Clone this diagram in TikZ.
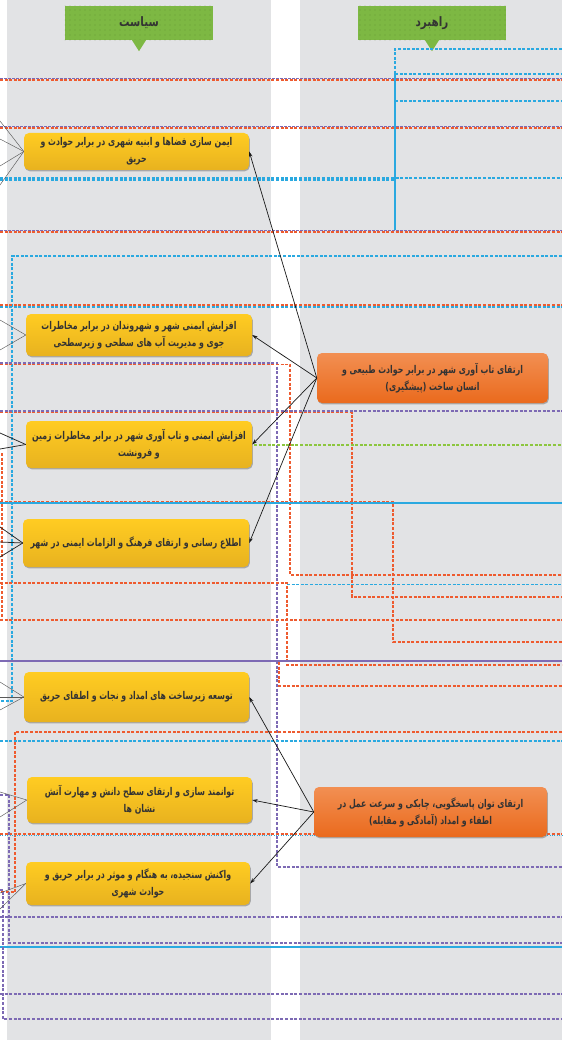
\documentclass[tikz,border=0pt]{standalone}
\usepackage{fontspec}
\newfontfamily\fa[Script=Arabic, FakeStretch=0.73]{DejaVu Sans}
\newfontfamily\fah[Script=Arabic, FakeStretch=0.8]{DejaVu Sans}
\TeXXeTstate=1
\usetikzlibrary{arrows.meta,shadows,patterns.meta}
\definecolor{panel}{HTML}{E2E3E5}
\definecolor{hdrc}{HTML}{7DB843}
\definecolor{ylt}{HTML}{FFCC22}
\definecolor{ydk}{HTML}{E8B21F}
\definecolor{olt}{HTML}{F28F52}
\definecolor{odk}{HTML}{EA6A1D}
\definecolor{cR}{HTML}{EE5B2F}
\definecolor{cP}{HTML}{7D6AB4}
\definecolor{cB}{HTML}{2AA9E0}
\definecolor{cG}{HTML}{8CC63F}
\definecolor{txt}{HTML}{333333}
\newcommand\rl[1]{\beginR #1\endR}
\tikzset{
  box/.style={rounded corners=5pt, draw=none, inner sep=0pt, align=center, text=txt,
    font=\fa\bfseries\fontsize{10.7}{17}\selectfont,
    drop shadow={shadow xshift=0.8pt, shadow yshift=-1.3pt, fill=black!50, opacity=0.6}},
  ybox/.style={box, top color=ylt, bottom color=ydk},
  obox/.style={box, top color=olt, bottom color=odk},
  hdr/.style={fill=hdrc, minimum width=148pt, minimum height=34pt, inner sep=0pt,
    font=\fah\bfseries\fontsize{13}{14}\selectfont, text=txt},
  arr/.style={draw=black!90, line width=0.7pt, -{Stealth[length=5.5pt,width=3.6pt]}},
  lft/.style={draw=black!65, line width=0.45pt},
  lftd/.style={draw=black!85, line width=0.75pt},
  dl/.style={dash pattern=on 3pt off 1.6pt, line width=1.2pt},
  rd/.style={dl, draw=cR},
  pd/.style={dl, draw=cP},
  bd/.style={dl, draw=cB},
  gd/.style={dl, draw=cG},
  rdw/.style={draw=cR, dash pattern=on 3pt off 1.6pt, line width=1.8pt},
  pdt/.style={draw=cP, dash pattern=on 3pt off 1pt, line width=0.9pt},
  bs/.style={draw=cB, line width=1.2pt},
}
\begin{document}
\begin{tikzpicture}[x=1pt,y=-1pt]
\useasboundingbox (0,0) rectangle (562,1040);
\fill[white] (0,0) rectangle (562,1040);
% panels
\fill[panel] (7,0) rectangle (271,1040);
\fill[panel] (300,0) rectangle (562,1040);

% headers
\node[hdr] (h1) at (139,23) {\rl{سیاست}};
\node[hdr] (h2) at (432,23) {\rl{راهبرد}};
\foreach \h in {h1,h2}{
  \path[pattern={Dots[radius=0.35pt,distance=5pt]}, pattern color=hdrc!55!black] (\h.south west) rectangle (\h.north east);
  \fill[hdrc] ([xshift=-7pt]\h.south) -- ([xshift=7pt]\h.south) -- ([yshift=-11pt]\h.south) -- cycle;
}

% dashed guide lines
\draw[rdw] (0,80) -- (562,80);
\draw[pdt] (0,78) -- (562,78);
\draw[rdw] (0,128) -- (562,128);
\draw[pdt] (0,126) -- (562,126);
\draw[bd] (0,178) -- (562,178);
\draw[bd] (0,180) -- (395,180);
\draw[bd] (562,49) -- (395,49) -- (395,74);
\draw[bd] (395,74) -- (562,74);
\draw[bd] (395,101) -- (562,101);
\draw[bs] (395,74) -- (395,230);
\draw[rdw] (0,232) -- (562,232);
\draw[pdt] (0,230) -- (562,230);
\draw[bd] (562,256) -- (12,256) -- (12,701) -- (0,701);
\draw[rdw] (0,305) -- (562,305);
\draw[bd] (0,307) -- (562,307);
\draw[pd] (0,363) -- (277,363) -- (277,867) -- (562,867);
\draw[rd] (0,364.6) -- (290,364.6) -- (290,575) -- (562,575);
\draw[pd] (0,411) -- (562,411);
\draw[rd] (0,412.6) -- (352,412.6) -- (352,597) -- (562,597);
\draw[gd] (254,445) -- (562,445);
\draw[rd] (2,453) -- (2,620);
\draw[bs] (0,503) -- (562,503);
\draw[rd] (0,501.4) -- (393,501.4) -- (393,642) -- (562,642);
\draw[rd] (0,583) -- (287,583) -- (287,665) -- (562,665);
\draw[bd] (287,584.6) -- (562,584.6);
\draw[rd] (0,620) -- (562,620);
\draw[draw=cP, line width=1.5pt] (0,661) -- (562,661);
\draw[rd] (279,662) -- (279,686) -- (562,686);
\draw[rd] (562,732) -- (15,732) -- (15,892) -- (0,892);
\draw[bd] (0,741) -- (562,741);
\draw[rd] (0,834) -- (562,834);
\draw[draw=cB, line width=0.7pt, dash pattern=on 0.8pt off 1.6pt] (0,835.6) -- (562,835.6);
\draw[pd] (0,795) -- (9,795) -- (9,943) -- (562,943);
\draw[pd] (0,917) -- (562,917);
\draw[bs] (0,947) -- (562,947);
\draw[pd] (0,890) -- (3,890) -- (3,1019) -- (562,1019);
\draw[pd] (0,994) -- (562,994);

% policy boxes
\node[ybox, minimum width=225pt, minimum height=37pt] (y1) at (136.5,151.5)
  {\rl{ایمن سازی فضاها و ابنیه شهری در برابر حوادث و}\\\rl{حریق}};
\node[ybox, minimum width=226pt, minimum height=42pt] (y2) at (139,335)
  {\rl{افزایش ایمنی شهر و شهروندان در برابر مخاطرات}\\\rl{جوی و مدیریت آب های سطحی و زیرسطحی}};
\node[ybox, minimum width=226pt, minimum height=47pt] (y3) at (139,444.5)
  {\rl{افزایش ایمنی و تاب آوری شهر در برابر مخاطرات زمین}\\\rl{و فرونشت}};
\node[ybox, minimum width=226pt, minimum height=48pt] (y4) at (136,543)
  {\rl{اطلاع رسانی و ارتقای فرهنگ و الزامات ایمنی در شهر}};
\node[ybox, minimum width=225pt, minimum height=50pt] (y5) at (136.5,697)
  {\rl{توسعه زیرساخت های امداد و نجات و اطفای حریق}};
\node[ybox, minimum width=225pt, minimum height=46pt] (y6) at (139.5,800)
  {\rl{توانمند سازی و ارتقای سطح دانش و مهارت آتش}\\\rl{نشان ها}};
\node[ybox, minimum width=224pt, minimum height=43pt] (y7) at (138,883.5)
  {\rl{واکنش سنجیده، به هنگام و موثر در برابر حریق و}\\\rl{حوادث شهری}};

% strategy boxes
\node[obox, minimum width=231pt, minimum height=50pt] (oA) at (432.5,378)
  {\rl{ارتقای تاب آوری شهر در برابر حوادث طبیعی و}\\\rl{انسان ساخت (پیشگیری)}};
\node[obox, minimum width=233pt, minimum height=50pt] (oB) at (430.5,812)
  {\rl{ارتقای توان پاسخگویی، چابکی و سرعت عمل در}\\\rl{اطفاء و امداد (آمادگی و مقابله)}};

% arrows
\draw[arr] (oA.west) -- (y1.east);
\draw[arr] (oA.west) -- (y2.east);
\draw[arr] (oA.west) -- (y3.east);
\draw[arr] (oA.west) -- (y4.east);
\draw[arr] (oB.west) -- (y5.east);
\draw[arr] (oB.west) -- (y6.east);
\draw[arr] (oB.west) -- (y7.east);

% incoming lines from the left (off picture)
\coordinate (a1) at (0,121); \coordinate (a2) at (0,139);
\coordinate (a3) at (0,166); \coordinate (a4) at (0,185);
\coordinate (b1) at (0,320); \coordinate (b2) at (0,350);
\coordinate (c1) at (0,433); \coordinate (c2) at (0,449);
\coordinate (d1) at (0,527); \coordinate (d2) at (0,542); \coordinate (d3) at (0,557);
\coordinate (e1) at (0,682); \coordinate (e2) at (0,697); \coordinate (e3) at (0,710);
\coordinate (f1) at (0,792); \coordinate (f2) at (0,817);
\coordinate (g1) at (0,893); \coordinate (g2) at (0,909);
\foreach \c in {a1,a2,a3,a4} \draw[lft] (\c) -- (y1.west);
\foreach \c in {b1,b2} \draw[lft] (\c) -- (y2.west);
\foreach \c in {c1,c2} \draw[lftd] (\c) -- (y3.west);
\foreach \c in {d1,d2,d3} \draw[lftd] (\c) -- (y4.west);
\foreach \c in {e1,e2,e3} \draw[lft] (\c) -- (y5.west);
\foreach \c in {f1,f2} \draw[lft] (\c) -- (y6.west);
\foreach \c in {g1,g2} \draw[lft] (\c) -- (y7.west);
\end{tikzpicture}
\end{document}
